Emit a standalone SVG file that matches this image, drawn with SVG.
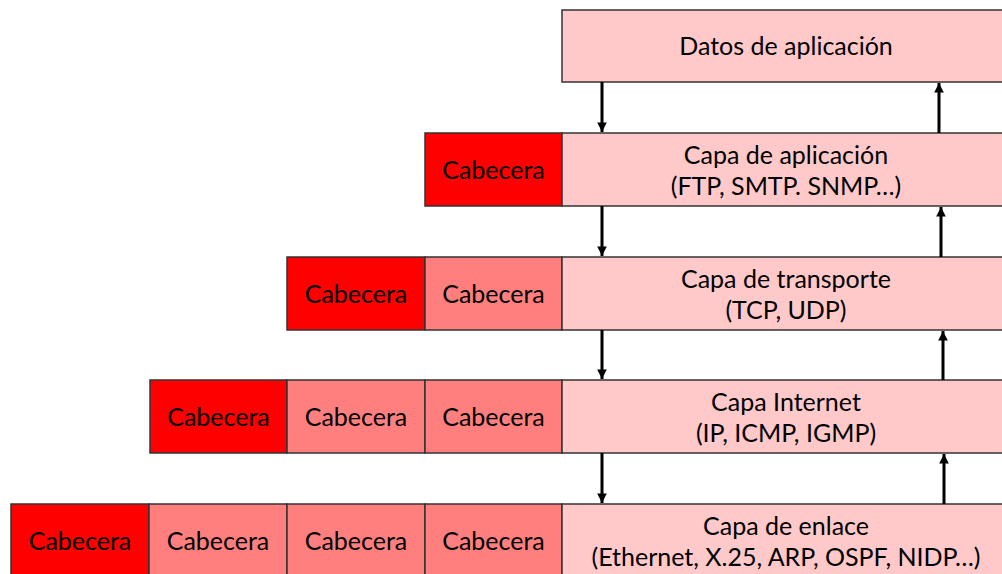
<svg xmlns="http://www.w3.org/2000/svg" width="1002" height="574" viewBox="0 0 1002 574">
<style>
.d{fill:#FFC9C9;stroke:#333;stroke-width:1.5}
.h1{fill:#FF0000;stroke:#333;stroke-width:1.5}
.h2{fill:#FF7F7F;stroke:#333;stroke-width:1.5}
text{font-family:Lato,"Open Sans","Liberation Sans",sans-serif;font-size:25px;fill:#000;text-anchor:middle}
.c{stroke:#000;stroke-width:3;fill:none}
</style>
<defs>
<marker id="ah" viewBox="0 0 10 10" refX="10" refY="5" markerWidth="3.4" markerHeight="3.2" orient="auto" markerUnits="strokeWidth">
<path d="M0,0 L10,5 L0,10 z" fill="#000"/>
</marker>
</defs>
<rect width="1002" height="574" fill="#fff"/>
<g id="datos">
<rect class="d" x="562" y="10" width="445" height="72"/>
<text x="786" y="55">Datos de aplicación</text>
</g>
<g id="aplicacion">
<rect class="h1" x="425" y="133" width="137" height="73"/>
<text x="493.5" y="179">Cabecera</text>
<rect class="d" x="562" y="133" width="445" height="73"/>
<text x="786" y="164">Capa de aplicación</text>
<text x="786" y="195">(FTP, SMTP. SNMP…)</text>
</g>
<g id="transporte">
<rect class="h1" x="287" y="257" width="138" height="73"/>
<text x="356" y="303">Cabecera</text>
<rect class="h2" x="425" y="257" width="137" height="73"/>
<text x="493.5" y="303">Cabecera</text>
<rect class="d" x="562" y="257" width="445" height="73"/>
<text x="786" y="288">Capa de transporte</text>
<text x="786" y="319">(TCP, UDP)</text>
</g>
<g id="internet">
<rect class="h1" x="150" y="380" width="137" height="73"/>
<text x="218.5" y="426">Cabecera</text>
<rect class="h2" x="287" y="380" width="138" height="73"/>
<text x="356" y="426">Cabecera</text>
<rect class="h2" x="425" y="380" width="137" height="73"/>
<text x="493.5" y="426">Cabecera</text>
<rect class="d" x="562" y="380" width="445" height="73"/>
<text x="786" y="411">Capa Internet</text>
<text x="786" y="442">(IP, ICMP, IGMP)</text>
</g>
<g id="enlace">
<rect class="h1" x="11" y="504" width="138" height="80"/>
<text x="80" y="550">Cabecera</text>
<rect class="h2" x="149" y="504" width="138" height="80"/>
<text x="218" y="550">Cabecera</text>
<rect class="h2" x="287" y="504" width="138" height="80"/>
<text x="356" y="550">Cabecera</text>
<rect class="h2" x="425" y="504" width="137" height="80"/>
<text x="493.5" y="550">Cabecera</text>
<rect class="d" x="562" y="504" width="445" height="80"/>
<text x="786" y="535">Capa de enlace</text>
<text x="786" y="566">(Ethernet, X.25, ARP, OSPF, NIDP…)</text>
</g>
<g id="connectors">
<line class="c" x1="602" y1="82" x2="602" y2="132" marker-end="url(#ah)"/>
<line class="c" x1="939" y1="133" x2="939" y2="83" marker-end="url(#ah)"/>
<line class="c" x1="602" y1="206" x2="602" y2="256" marker-end="url(#ah)"/>
<line class="c" x1="941" y1="257" x2="941" y2="207" marker-end="url(#ah)"/>
<line class="c" x1="602" y1="330" x2="602" y2="379" marker-end="url(#ah)"/>
<line class="c" x1="943" y1="380" x2="943" y2="331" marker-end="url(#ah)"/>
<line class="c" x1="602" y1="453" x2="602" y2="503" marker-end="url(#ah)"/>
<line class="c" x1="944" y1="504" x2="944" y2="454" marker-end="url(#ah)"/>
</g>
</svg>
